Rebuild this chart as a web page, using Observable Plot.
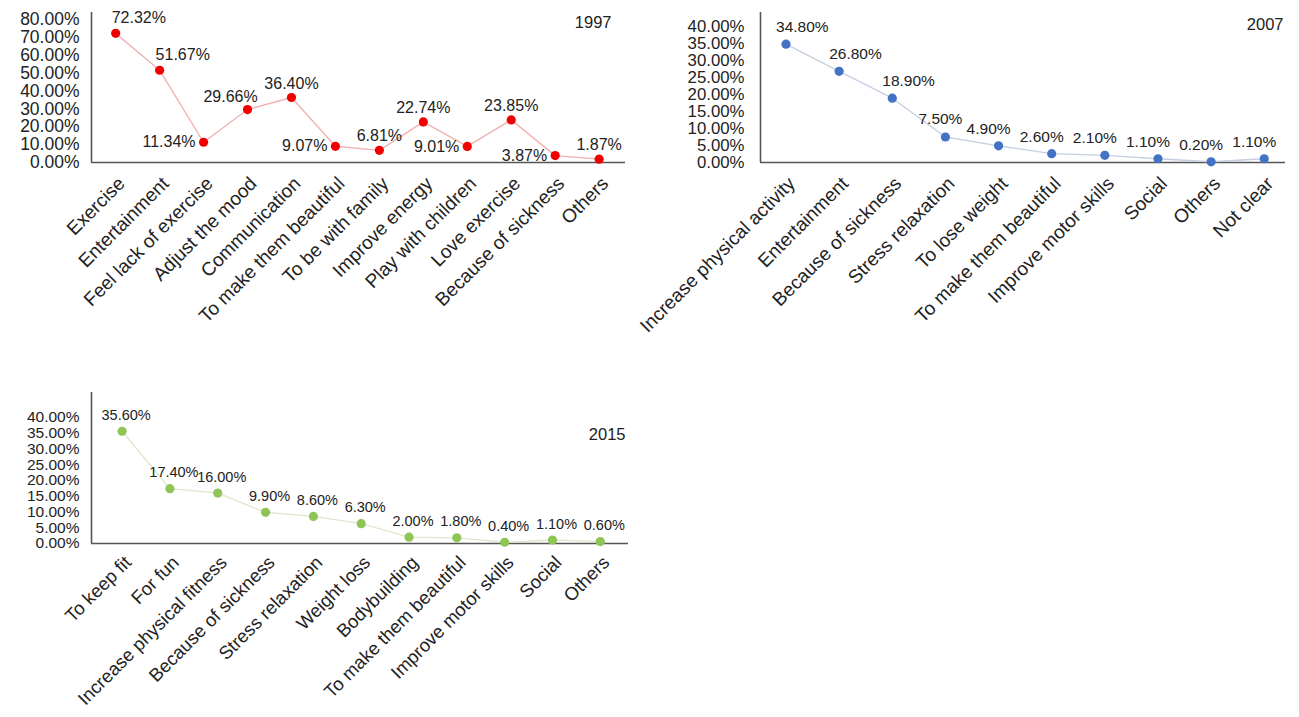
<!DOCTYPE html>
<html>
<head>
<meta charset="utf-8">
<script src="https://cdn.jsdelivr.net/npm/d3@7"></script>
<script src="https://cdn.jsdelivr.net/npm/@observablehq/plot@0.6"></script>
<style>
  html, body { margin: 0; padding: 0; background: #fff; }
  #root { position: relative; width: 1299px; height: 717px; overflow: hidden; background: #fff; }
  .panel { position: absolute; }
  .panel svg { overflow: visible; }
</style>
</head>
<body>
<div id="root"></div>
<script>
// ---------- data ----------
const cats1997 = ["Exercise", "Entertainment", "Feel lack of exercise", "Adjust the mood", "Communication",
  "To make them beautiful", "To be with family", "Improve energy", "Play with children", "Love exercise",
  "Because of sickness", "Others"];
const vals1997 = [72.32, 51.67, 11.34, 29.66, 36.40, 9.07, 6.81, 22.74, 9.01, 23.85, 3.87, 1.87];
const place1997 = ["upright", "upright", "left", "aboveleft", "above", "left", "above", "above", "left", "above", "left", "above"];
const yTicks1997 = [0, 10, 20, 30, 40, 50, 60, 70, 80];

const cats2007 = ["Increase physical activity", "Entertainment", "Because of sickness", "Stress relaxation",
  "To lose weight", "To make them beautiful", "Improve motor skills", "Social", "Others", "Not clear"];
const vals2007 = [34.80, 26.80, 18.90, 7.50, 4.90, 2.60, 2.10, 1.10, 0.20, 1.10];
const place2007 = ["upright", "upright", "upright", "above", "aboveleft", "aboveleft", "aboveleft", "aboveleft", "aboveleft", "aboveleft"];
const yTicks2007 = [0, 5, 10, 15, 20, 25, 30, 35, 40];

const cats2015 = ["To keep fit", "For fun", "Increase physical fitness", "Because of sickness", "Stress relaxation",
  "Weight loss", "Bodybuilding", "To make them beautiful", "Improve motor skills", "Social", "Others"];
const vals2015 = [35.60, 17.40, 16.00, 9.90, 8.60, 6.30, 2.00, 1.80, 0.40, 1.10, 0.60];
const place2015 = ["above", "above", "above", "above", "above", "above", "above", "above", "above", "above", "above"];
const yTicks2015 = [0, 5, 10, 15, 20, 25, 30, 35, 40];

// ---------- drawing ----------
const FONT = "'Liberation Sans', Arial, Helvetica, sans-serif";
const fmt = v => v.toFixed(2) + "%";

function panel(cfg) {
  const rows = cfg.cats.map((c, i) => ({i, c, v: cfg.vals[i], p: cfg.place[i]}));
  const textMarks = Object.entries(cfg.offsets).map(([key, o]) =>
    Plot.text(rows.filter(d => d.p === key), {
      x: "i", y: "v", text: d => fmt(d.v),
      textAnchor: o.anchor, dx: o.dx, dy: o.dy,
      fontSize: cfg.valueFont, fill: "#222"
    })
  );
  const chart = Plot.plot({
    width: cfg.width,
    height: cfg.height,
    marginLeft: cfg.ml, marginRight: cfg.mr, marginTop: cfg.mt, marginBottom: cfg.mb,
    style: {fontFamily: FONT, color: "#222", background: "transparent", overflow: "visible"},
    x: {domain: cfg.xDomain, axis: null},
    y: {domain: cfg.yDomain, axis: null},
    marks: [
      Plot.axisY({ticks: cfg.yTicks, tickFormat: fmt, tickSize: 0, tickPadding: cfg.yPad,
        fontSize: cfg.yFont, fill: "#222", label: null}),
      Plot.axisX({ticks: d3.range(cfg.cats.length), tickFormat: i => cfg.cats[i], tickRotate: -45,
        tickSize: 0, tickPadding: cfg.xPad, fontSize: cfg.xFont, fill: "#222", dx: cfg.xDx, label: null}),
      Plot.ruleY([0], {stroke: "#555", strokeWidth: 1.6}),
      Plot.ruleX([cfg.xDomain[0]], {stroke: "#555", strokeWidth: 1.6}),
      Plot.line(rows, {x: "i", y: "v", stroke: cfg.lineColor, strokeWidth: 1.4}),
      Plot.dot(rows, {x: "i", y: "v", r: 4.6, fill: cfg.dotColor, stroke: "none"}),
      ...textMarks,
      Plot.text([cfg.year], {frameAnchor: "top-right", text: d => d, dx: cfg.yearDx, dy: cfg.yearDy,
        fontSize: cfg.yearFont, fill: "#222"})
    ]
  });
  const div = document.createElement("div");
  div.className = "panel";
  div.style.left = cfg.left + "px";
  div.style.top = cfg.top + "px";
  div.appendChild(chart);
  document.getElementById("root").appendChild(div);
}

panel({
  year: "1997", cats: cats1997, vals: vals1997, place: place1997, yTicks: yTicks1997,
  left: 0, top: 0, width: 640, height: 340, ml: 91, mr: 15, mt: 12, mb: 178,
  xDomain: [-0.55, 11.6], yDomain: [0, 84],
  dotColor: "#f00000", lineColor: "#f2b2b2",
  yFont: 17.5, xFont: 19, valueFont: 16, yearFont: 16.5, yPad: 12, xPad: 18, xDx: 6,
  yearDx: -14, yearDy: 4,
  offsets: {
    upright: {anchor: "start", dx: -4, dy: -15},
    left: {anchor: "end", dx: -8, dy: 0},
    above: {anchor: "middle", dx: 0, dy: -14},
    aboveleft: {anchor: "middle", dx: -17, dy: -13}
  }
});

panel({
  year: "2007", cats: cats2007, vals: vals2007, place: place2007, yTicks: yTicks2007,
  left: 640, top: 0, width: 659, height: 340, ml: 120, mr: 14, mt: 12, mb: 178,
  xDomain: [-0.48, 9.4], yDomain: [0, 44.1],
  dotColor: "#4472c4", lineColor: "#c6cfe2",
  yFont: 16.8, xFont: 19, valueFont: 15.5, yearFont: 16.5, yPad: 16, xPad: 18, xDx: 6,
  yearDx: -2, yearDy: 6,
  offsets: {
    upright: {anchor: "start", dx: -10, dy: -17},
    above: {anchor: "middle", dx: -5, dy: -18},
    aboveleft: {anchor: "middle", dx: -10, dy: -17}
  }
});

panel({
  year: "2015", cats: cats2015, vals: vals2015, place: place2015, yTicks: yTicks2015,
  left: 0, top: 380, width: 640, height: 337, ml: 91, mr: 12, mt: 12, mb: 174,
  xDomain: [-0.64, 10.59], yDomain: [0, 47.9],
  dotColor: "#8fc557", lineColor: "#dde8cc",
  yFont: 15.5, xFont: 18.5, valueFont: 14.5, yearFont: 16.5, yPad: 12, xPad: 16, xDx: 6,
  yearDx: -3, yearDy: 36,
  offsets: {
    above: {anchor: "middle", dx: 4, dy: -16}
  }
});
</script>
</body>
</html>
